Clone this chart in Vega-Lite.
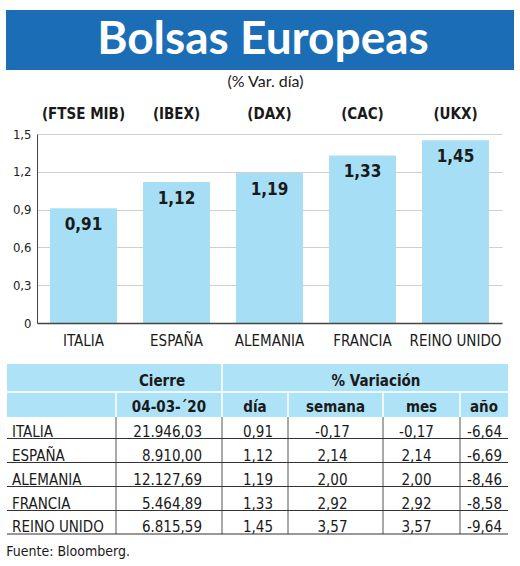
{
  "$schema": "https://vega.github.io/schema/vega-lite/v6.json",
  "background": "white",
  "padding": {"left": 6, "top": 10, "right": 0, "bottom": 0},
  "spacing": 4,
  "datasets": {
    "bolsas": [
      {"pais": "ITALIA", "indice": "(FTSE MIB)", "cierre": 21946.03, "dia": 0.91, "semana": -0.17, "mes": -0.17, "ano": -6.64},
      {"pais": "ESPAÑA", "indice": "(IBEX)", "cierre": 8910.00, "dia": 1.12, "semana": 2.14, "mes": 2.14, "ano": -6.69},
      {"pais": "ALEMANIA", "indice": "(DAX)", "cierre": 12127.69, "dia": 1.19, "semana": 2.00, "mes": 2.00, "ano": -8.46},
      {"pais": "FRANCIA", "indice": "(CAC)", "cierre": 5464.89, "dia": 1.33, "semana": 2.92, "mes": 2.92, "ano": -8.58},
      {"pais": "REINO UNIDO", "indice": "(UKX)", "cierre": 6815.59, "dia": 1.45, "semana": 3.57, "mes": 3.57, "ano": -9.64}
    ],
    "columnas": [
      {"col": 1, "borde": 0.5, "grupo": "Cierre", "nombre": "04-03-´20"},
      {"col": 2, "borde": 1.5, "grupo": "% Variación", "nombre": "día"},
      {"col": 3, "borde": 2.5, "grupo": "% Variación", "nombre": "semana"},
      {"col": 4, "borde": 3.5, "grupo": "% Variación", "nombre": "mes"},
      {"col": 5, "borde": 4.5, "grupo": "% Variación", "nombre": "año"}
    ]
  },
  "vconcat": [
    {
      "width": 465,
      "height": 60,
      "data": {"values": [{"titulo": "Bolsas Europeas"}]},
      "layer": [
        {
          "mark": {"type": "rect", "color": "#1b6db5"},
          "encoding": {
            "x": {"datum": 0, "type": "quantitative", "axis": null,
              "scale": {"domain": [0, 1], "range": [-31, 477], "zero": false, "nice": false}},
            "x2": {"datum": 1}
          }
        },
        {
          "mark": {"type": "text", "font": "Lato", "fontSize": 46, "fontWeight": "bold", "color": "white", "dx": 3},
          "encoding": {
            "x": {"datum": 0.5, "type": "quantitative", "axis": null},
            "text": {"field": "titulo"}
          }
        }
      ]
    },
    {
      "width": 465,
      "height": 20,
      "title": {"text": "(% Var. día)", "fontSize": 16, "fontWeight": "normal", "offset": 14, "color": "#1a1a1a", "font": "Lato", "dx": -4},
      "data": {"name": "bolsas"},
      "mark": {"type": "text", "fontSize": 15, "fontWeight": "bold", "color": "#1a1a1a"},
      "encoding": {
        "x": {
          "field": "pais", "type": "nominal", "sort": null, "axis": null,
          "scale": {"paddingInner": 0.28, "paddingOuter": 0.14}
        },
        "text": {"field": "indice"}
      }
    },
    {
      "width": 465,
      "height": 189,
      "data": {"name": "bolsas"},
      "encoding": {
        "x": {
          "field": "pais", "type": "nominal", "sort": null,
          "scale": {"paddingInner": 0.28, "paddingOuter": 0.14},
          "axis": {"title": null, "labelAngle": 0, "ticks": false, "labelPadding": 10, "labelFontSize": 15, "labelColor": "#1a1a1a", "domainColor": "#444", "domainWidth": 1.5, "zindex": 1}
        },
        "y": {
          "field": "dia", "type": "quantitative",
          "scale": {"domain": [0, 1.5], "nice": false},
          "axis": {"title": null, "values": [0, 0.3, 0.6, 0.9, 1.2, 1.5], "format": ".1~f", "grid": true, "labelOverlap": false, "ticks": false, "labelPadding": 6, "labelFontSize": 13, "labelColor": "#222", "gridColor": "#cfcfcf", "gridWidth": 1, "domainColor": "#444"}
        }
      },
      "layer": [
        {
          "mark": {"type": "bar", "color": "#a6dff5"}
        },
        {
          "mark": {"type": "text", "baseline": "top", "dy": 9, "fontSize": 17, "fontWeight": "bold", "color": "#1a1a1a"},
          "encoding": {
            "text": {"field": "dia", "type": "quantitative", "format": ".2f"}
          }
        }
      ]
    },
    {
      "width": 465,
      "height": 183,
      "title": {"text": "Fuente: Bloomberg.", "orient": "bottom", "anchor": "start", "frame": "bounds", "fontSize": 14, "fontWeight": "normal", "offset": 10, "color": "#1a1a1a"},
      "layer": [
        {
          "data": {"values": [{"zona": "cabecera"}]},
          "mark": {"type": "rect", "color": "#aee2f6"},
          "encoding": {
            "x": {"datum": -0.5, "type": "quantitative", "axis": null,
              "scale": {"domain": [-0.5, 0, 0.5, 1, 1.5, 2, 2.5, 3, 3.5, 4, 4.5, 5, 5.5], "range": [-30, 24.5, 79, 132, 185, 218, 251, 298.5, 346, 384.5, 423, 447, 471], "zero": false, "nice": false}},
            "x2": {"datum": 5.5},
            "y": {"datum": -2, "type": "quantitative", "axis": null,
              "scale": {"domain": [-2, -1, 0, 1, 2, 3, 4, 5], "range": [12, 40, 65, 86.5, 110.5, 134.5, 158.5, 182], "zero": false, "nice": false}},
            "y2": {"datum": 0}
          }
        },
        {
          "data": {"values": [{"zona": "cabecera"}]},
          "mark": {"type": "rule", "color": "white", "strokeWidth": 1.5},
          "encoding": {
            "x": {"datum": -0.5, "type": "quantitative", "axis": null},
            "x2": {"datum": 5.5},
            "y": {"datum": -1, "type": "quantitative", "axis": null}
          }
        },
        {
          "data": {"values": [{"zona": "cabecera"}]},
          "mark": {"type": "rule", "color": "white", "strokeWidth": 1.5},
          "encoding": {
            "x": {"datum": 1.5, "type": "quantitative", "axis": null},
            "y": {"datum": -2, "type": "quantitative", "axis": null},
            "y2": {"datum": -1}
          }
        },
        {
          "data": {"name": "columnas"},
          "mark": {"type": "rule", "color": "white", "strokeWidth": 1.5},
          "encoding": {
            "x": {"field": "borde", "type": "quantitative", "axis": null},
            "y": {"datum": -1, "type": "quantitative", "axis": null},
            "y2": {"datum": 0}
          }
        },
        {
          "data": {"name": "columnas"},
          "mark": {"type": "rule", "color": "#555", "strokeWidth": 1},
          "encoding": {
            "x": {"field": "borde", "type": "quantitative", "axis": null},
            "y": {"datum": 0, "type": "quantitative", "axis": null},
            "y2": {"datum": 5}
          }
        },
        {
          "data": {"name": "columnas"},
          "transform": [{"aggregate": [{"op": "mean", "field": "col", "as": "centro"}], "groupby": ["grupo"]}],
          "mark": {"type": "text", "baseline": "alphabetic", "dy": -6, "dx": -7, "fontSize": 15, "fontWeight": "bold", "color": "#1a1a1a"},
          "encoding": {
            "x": {"field": "centro", "type": "quantitative", "axis": null},
            "y": {"datum": -1, "type": "quantitative", "axis": null},
            "text": {"field": "grupo"}
          }
        },
        {
          "data": {"name": "columnas"},
          "mark": {"type": "text", "baseline": "alphabetic", "dy": -5, "fontSize": 15, "fontWeight": "bold", "color": "#1a1a1a"},
          "encoding": {
            "x": {"field": "col", "type": "quantitative", "axis": null},
            "y": {"datum": 0, "type": "quantitative", "axis": null},
            "text": {"field": "nombre"}
          }
        },
        {
          "data": {"name": "bolsas"},
          "transform": [{"window": [{"op": "row_number", "as": "fila"}]}],
          "encoding": {
            "y": {"field": "fila", "type": "quantitative", "axis": null}
          },
          "layer": [
            {
              "mark": {"type": "rule", "color": "#333", "strokeWidth": 1.2},
              "encoding": {
                "x": {"datum": -0.5, "type": "quantitative", "axis": null},
                "x2": {"datum": 5.5}
              }
            },
            {
              "mark": {"type": "text", "align": "left", "baseline": "alphabetic", "dx": 5, "dy": -2, "fontSize": 15, "color": "#1a1a1a"},
              "encoding": {
                "x": {"datum": -0.5, "type": "quantitative", "axis": null},
                "text": {"field": "pais"}
              }
            },
            {
              "mark": {"type": "text", "align": "right", "baseline": "alphabetic", "dx": -20, "dy": -2, "fontSize": 15, "color": "#1a1a1a"},
              "encoding": {
                "x": {"datum": 1.5, "type": "quantitative", "axis": null},
                "text": {"field": "cierre", "type": "quantitative", "format": ",.2f"}
              }
            },
            {
              "mark": {"type": "text", "align": "right", "baseline": "alphabetic", "dx": -15, "dy": -2, "fontSize": 15, "color": "#1a1a1a"},
              "encoding": {
                "x": {"datum": 2.5, "type": "quantitative", "axis": null},
                "text": {"field": "dia", "type": "quantitative", "format": ".2f"}
              }
            },
            {
              "mark": {"type": "text", "align": "center", "baseline": "alphabetic", "dx": -3, "dy": -2, "fontSize": 15, "color": "#1a1a1a"},
              "encoding": {
                "x": {"datum": 3, "type": "quantitative", "axis": null},
                "text": {"field": "semana", "type": "quantitative", "format": ".2f"}
              }
            },
            {
              "mark": {"type": "text", "align": "center", "baseline": "alphabetic", "dx": -5, "dy": -2, "fontSize": 15, "color": "#1a1a1a"},
              "encoding": {
                "x": {"datum": 4, "type": "quantitative", "axis": null},
                "text": {"field": "mes", "type": "quantitative", "format": ".2f"}
              }
            },
            {
              "mark": {"type": "text", "align": "right", "baseline": "alphabetic", "dx": -6, "dy": -2, "fontSize": 15, "color": "#1a1a1a"},
              "encoding": {
                "x": {"datum": 5.5, "type": "quantitative", "axis": null},
                "text": {"field": "ano", "type": "quantitative", "format": ".2f"}
              }
            }
          ]
        }
      ]
    }
  ],
  "config": {
    "font": "DejaVu Sans Condensed, Liberation Sans Narrow, sans-serif",
    "locale": {"number": {"decimal": ",", "thousands": ".", "grouping": [3], "currency": ["", " €"], "minus": "-"}},
    "view": {"stroke": null},
    "axis": {"labelFont": "DejaVu Sans Condensed, Liberation Sans Narrow, sans-serif"},
    "title": {"font": "DejaVu Sans Condensed, Liberation Sans Narrow, sans-serif"}
  }
}
